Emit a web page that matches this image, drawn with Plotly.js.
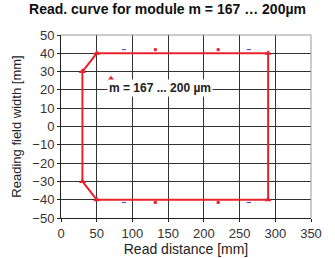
<!DOCTYPE html>
<html><head><meta charset="utf-8">
<script src="https://cdn.plot.ly/plotly-3.0.1.min.js"></script>
<style>html,body{margin:0;padding:0;background:#fff}#c{width:335px;height:258px}</style>
</head><body><div id="c"></div>
<script>
// Read curve boundary (read distance [mm], field width [mm])
var curveX = [30, 50, 290, 290, 50, 30, 30];
var curveY = [30, 40, 40, -40, -40, -30, 30];
// stray marks
var redDotX = [132, 220, 132, 220];
var redDotY = [42, 42, -41.5, -41.5];
var blueDashX = [88, 263, 88, 263];
var blueDashY = [42, 42, -41.5, -41.5];
var legendLabel = 'm = 167 ... 200 µm';
var legendMarkX = [70];
var legendMarkY = [25.8];
var xTicks = [0, 50, 100, 150, 200, 250, 300, 350];
var yTicks = [50, 40, 30, 20, 10, 0, -10, -20, -30, -40, -50];

var red = '#e8232b';
var traces = [
  {x: curveX, y: curveY, mode: 'lines+markers', line: {color: red, width: 2},
   marker: {symbol: 'triangle-up', size: 6, color: red}, hoverinfo: 'none'},
  {x: redDotX, y: redDotY, mode: 'markers', marker: {symbol: 'square', size: 3, color: red}},
  {x: blueDashX, y: blueDashY, mode: 'markers', marker: {symbol: 'line-ew', size: 3, line: {color: '#3344cc', width: 1}}},
  {x: legendMarkX, y: legendMarkY, mode: 'markers', marker: {symbol: 'triangle-up', size: 7, color: red}}
];
var font = 'Liberation Sans Narrow, Liberation Sans, Arial, sans-serif';
var layout = {
  width: 335, height: 258, showlegend: false,
  margin: {l: 61, r: 24, t: 35, b: 40},
  paper_bgcolor: '#fff', plot_bgcolor: '#fff',
  font: {family: font, color: '#222', size: 13},
  title: {text: '<b>Read. curve for module m = 167 … 200µm</b>', x: 0.5, xanchor: 'center', y: 0.985, yanchor: 'top',
    font: {size: 14, color: '#111', family: font}},
  xaxis: {range: [0, 350], tickvals: xTicks, ticks: 'outside', ticklen: 3, tickcolor: '#222',
    showline: true, linecolor: '#222', linewidth: 1, mirror: false,
    showgrid: true, gridcolor: '#333', gridwidth: 1, zeroline: false,
    tickfont: {size: 13, color: '#333'},
    title: {text: 'Read distance [mm]', font: {size: 14, color: '#222'}, standoff: 4}},
  yaxis: {range: [-50, 50], tickvals: yTicks, ticks: 'outside', ticklen: 3, tickcolor: '#222',
    showline: true, linecolor: '#222', linewidth: 1,
    showgrid: true, gridcolor: '#333', gridwidth: 1, zeroline: false,
    tickfont: {size: 13, color: '#333'},
    title: {text: 'Reading field width [mm]', font: {size: 13, color: '#222'}, standoff: 7}},
  shapes: [
    {type: 'line', xref: 'paper', yref: 'paper', x0: 0, x1: 1, y0: 1, y1: 1, line: {color: '#999', width: 1}},
    {type: 'line', xref: 'paper', yref: 'paper', x0: 1, x1: 1, y0: 0, y1: 1, line: {color: '#999', width: 1}}
  ],
  annotations: [
    {text: '<b>' + legendLabel + '</b>', x: 65, y: 21, xref: 'x', yref: 'y', xanchor: 'left', yanchor: 'middle',
     showarrow: false, bgcolor: '#fff', font: {size: 12, color: '#222', family: font}, borderpad: 1}
  ]
};
Plotly.newPlot('c', traces, layout, {staticPlot: true, displayModeBar: false});
</script></body></html>
